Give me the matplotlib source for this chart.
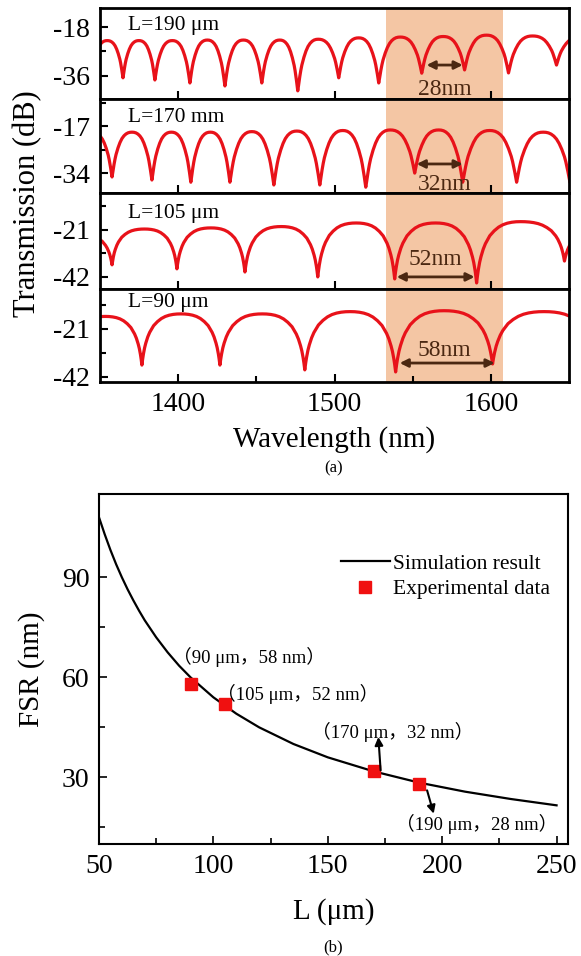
import numpy as np
import matplotlib
matplotlib.use("Agg")
import matplotlib.pyplot as plt

plt.rcParams['font.family'] = ['Liberation Serif', 'Noto Sans CJK SC', 'DejaVu Serif']
plt.rcParams['axes.unicode_minus'] = False

W, H = 581, 956

# ---- (a) transmission spectra ----
# dip wavelengths (nm), dip depths (dB), level of the arch between two dips (dB)
PANEL_LABELS = ["L=190 μm", "L=170 mm", "L=105 μm", "L=90 μm"]

DIP_WL_190 = [1344.5, 1364.7, 1385.1, 1407.5, 1429.9, 1453.5, 1476.5, 1502.7,
              1528.3, 1555.8, 1583.2, 1611.3, 1642.0, 1673.0]
DIP_DB_190 = [-37.0, -36.7, -37.5, -38.6, -39.7, -38.6, -41.5, -36.7,
              -38.6, -35.0, -33.8, -34.9, -32.0, -33.0]
PEAK_DB_190 = [-23.0, -23.0, -23.0, -22.8, -22.8, -22.8, -22.5, -22.0,
               -21.7, -21.5, -21.0, -21.3, -21.7]

DIP_WL_170 = [1333.0, 1357.7, 1383.2, 1408.1, 1433.1, 1461.2, 1490.6, 1520.0,
              1551.3, 1582.0, 1616.5, 1650.5]
DIP_DB_170 = [-36.0, -35.4, -36.5, -37.3, -37.3, -38.3, -38.3, -39.1,
              -34.0, -37.3, -37.3, -37.0]
PEAK_DB_170 = [-19.5, -19.2, -19.2, -19.2, -19.0, -18.8, -18.6, -18.4,
               -18.4, -18.6, -19.2]

DIP_WL_105 = [1316.0, 1357.7, 1399.2, 1442.7, 1489.3, 1538.5, 1590.9, 1647.1, 1705.0]
DIP_DB_105 = [-36.0, -36.6, -38.4, -39.8, -42.0, -42.9, -44.7, -34.9, -35.0]
PEAK_DB_105 = [-23.0, -20.6, -20.1, -19.5, -17.9, -17.9, -17.3, -20.0]

DIP_WL_90 = [1330.0, 1376.8, 1426.7, 1481.0, 1539.1, 1601.1, 1667.0]
DIP_DB_90 = [-37.0, -36.8, -36.8, -38.9, -39.8, -36.3, -36.0]
PEAK_DB_90 = [-15.5, -14.4, -14.4, -13.4, -13.0, -13.4]

# shape of one half arch: fraction of the period from the dip -> relative height
ARCH_F = [0, 0.01, 0.02, 0.035, 0.05, 0.075, 0.1, 0.15, 0.2, 0.25, 0.3, 0.35, 0.4, 0.45, 0.5]
ARCH_S_SHORT = [0, 0.05, 0.11, 0.2, 0.28, 0.4, 0.5, 0.65, 0.77, 0.86, 0.92, 0.96, 0.985, 0.997, 1.0]
ARCH_S_LONG = [0, 0.12, 0.22, 0.34, 0.43, 0.55, 0.64, 0.77, 0.85, 0.91, 0.95, 0.975, 0.99, 0.998, 1.0]

Y_MAJOR = [[-18, -36], [-17, -34], [-21, -42], [-21, -42]]
Y_MINOR = [[-27], [-8.5, -25.5], [-10.5, -31.5], [-10.5, -31.5]]
Y_LIM = [(-44.5, -11.0), (-41.2, -7.2), (-47.4, -4.5), (-44.2, -3.5)]

FSR_TEXT = ["28nm", "32nm", "52nm", "58nm"]
ARROW_POS = [(1558.9, 1582.0, -32.0), (1552.6, 1582.0, -30.7),
             (1539.8, 1589.6, -42.0), (1541.7, 1602.4, -35.9)]
TEXT_POS = [(1570.4, -41.1), (1570.4, -38.3), (1564.7, -34.4), (1570.4, -30.6)]
BAND = (1533, 1608)

# ---- (b) FSR vs ring length ----
SIM_L = [50, 52.5, 55, 57.5, 60, 62.5, 65, 67.5, 70, 75, 80, 85, 90, 100, 110,
         120, 135, 150, 170, 190, 210, 230, 250]
SIM_FSR = [108, 102.9, 98.2, 93.9, 90, 86.4, 83.1, 80, 77.1, 72, 67.5, 63.5,
           60, 54, 49.1, 45, 40, 36, 31.8, 28.4, 25.7, 23.5, 21.6]
EXP_L = [90, 105, 170, 190]
EXP_FSR = [58, 52, 32, 28]
EXP_LABELS = ["（90 μm，58 nm）", "（105 μm，52 nm）", "（170 μm，32 nm）", "（190 μm，28 nm）"]
EXP_LABEL_POS = [(115.7, 66.0), (136.8, 55.0), (178.2, 43.5), (215.2, 16.0)]

RED = '#e8121a'
PEACH = '#f4c6a4'
BROWN = '#4b2812'


def arch_curve(wl, db, pk, shape):
    f = np.array(ARCH_F)
    s = np.array(shape)
    xs, ys = [], []
    for i in range(len(pk)):
        w0, w1 = wl[i], wl[i + 1]
        d0, d1, p = db[i], db[i + 1], pk[i]
        xs.append(w0 + f * (w1 - w0))
        ys.append(d0 + (p - d0) * s)
        fr, sr = f[::-1][1:], s[::-1][1:]
        xs.append(w1 - fr * (w1 - w0))
        ys.append(d1 + (p - d1) * sr)
    return np.concatenate(xs), np.concatenate(ys)


def px_axes(fig, l, t, r, b):
    return fig.add_axes([l / W, 1 - b / H, (r - l) / W, (b - t) / H])


fig = plt.figure(figsize=(W / 100, H / 100), dpi=100)

bounds = [(8, 99), (99, 193), (193, 289), (289, 382)]
spectra = [(DIP_WL_190, DIP_DB_190, PEAK_DB_190, ARCH_S_SHORT),
           (DIP_WL_170, DIP_DB_170, PEAK_DB_170, ARCH_S_SHORT),
           (DIP_WL_105, DIP_DB_105, PEAK_DB_105, ARCH_S_LONG),
           (DIP_WL_90, DIP_DB_90, PEAK_DB_90, ARCH_S_LONG)]
label_y = [0.81, 0.80, 0.79, 0.85]

for k, ((t, b), (wl, db, pk, shape)) in enumerate(zip(bounds, spectra)):
    ax = px_axes(fig, 100, t, 569, b)
    ax.axvspan(*BAND, color=PEACH, lw=0, zorder=0)
    x, y = arch_curve(wl, db, pk, shape)
    ax.plot(x, y, color=RED, lw=2.3, zorder=2)
    ax.set_xlim(1350, 1650)
    ax.set_ylim(*Y_LIM[k])
    ax.set_yticks(Y_MAJOR[k])
    ax.set_yticks(Y_MINOR[k], minor=True)
    ax.set_xticks([1400, 1500, 1600])
    if k == 3:
        ax.set_xticks([1450, 1550], minor=True)
    else:
        ax.tick_params(axis='x', labelbottom=False)
    ax.tick_params(which='both', direction='in', top=False, right=False, width=1.5)
    ax.tick_params(which='major', length=6, labelsize=20, pad=7)
    ax.tick_params(which='minor', length=4)
    for sp in ax.spines.values():
        sp.set_linewidth(2)
    ax.text(0.06, label_y[k], PANEL_LABELS[k], transform=ax.transAxes,
            fontsize=15.5, va='center', ha='left')
    x0, x1, ya = ARROW_POS[k]
    ax.annotate('', xy=(x1, ya), xytext=(x0, ya),
                arrowprops=dict(arrowstyle='<|-|>', color=BROWN, lw=2,
                                mutation_scale=12, shrinkA=0, shrinkB=0))
    ax.text(TEXT_POS[k][0], TEXT_POS[k][1], FSR_TEXT[k], color=BROWN,
            fontsize=17, ha='center', va='center', clip_on=True)
    if k == 3:
        ax.set_xlabel('Wavelength (nm)', fontsize=21, labelpad=7)

fig.text(28 / W, 1 - 204 / H, 'Transmission (dB)', rotation=90, fontsize=22,
         ha='center', va='center')
fig.text(334 / W, 1 - 468 / H, '(a)', fontsize=12, ha='center', va='center')

# ---- (b) ----
ax = px_axes(fig, 99, 494, 568, 844)
ax.plot(SIM_L, SIM_FSR, color='black', lw=1.6, label='Simulation result')
ax.plot(EXP_L, EXP_FSR, 's', color='#f01010', ms=8, ls='none', label='Experimental data')
ax.set_xlim(50, 255)
ax.set_ylim(10, 115)
ax.set_xticks([50, 100, 150, 200, 250])
ax.set_xticks([75, 125, 175, 225], minor=True)
ax.set_yticks([30, 60, 90])
ax.set_yticks([15, 45, 75], minor=True)
ax.tick_params(which='both', direction='in', top=False, right=False, width=1.2)
ax.tick_params(which='major', length=6, labelsize=20, pad=7)
ax.tick_params(which='minor', length=4)
for sp in ax.spines.values():
    sp.set_linewidth(1.5)
ax.set_xlabel('L (μm)', fontsize=21, labelpad=14)
ax.set_ylabel('FSR (nm)', fontsize=21, labelpad=12)

for txt, (lx, ly) in zip(EXP_LABELS, EXP_LABEL_POS):
    ax.text(lx, ly, txt, fontsize=13.5, ha='center', va='center')
ax.annotate('', xy=(172.1, 42.1), xytext=(173.1, 32.1),
            arrowprops=dict(arrowstyle='-|>', color='black', lw=1.5, mutation_scale=12,
                            shrinkA=0, shrinkB=0))
ax.annotate('', xy=(196.3, 19.1), xytext=(193.4, 26.1),
            arrowprops=dict(arrowstyle='-|>', color='black', lw=1.5, mutation_scale=12,
                            shrinkA=0, shrinkB=0))

ax.legend(loc='upper left', bbox_to_anchor=(0.492, 0.86), frameon=False, fontsize=15.5,
          borderpad=0, handlelength=2.3, handletextpad=0.15, labelspacing=0.25)

fig.text(333 / W, 1 - 947 / H, '(b)', fontsize=12, ha='center', va='center')

fig.savefig('out.png', dpi=100)
